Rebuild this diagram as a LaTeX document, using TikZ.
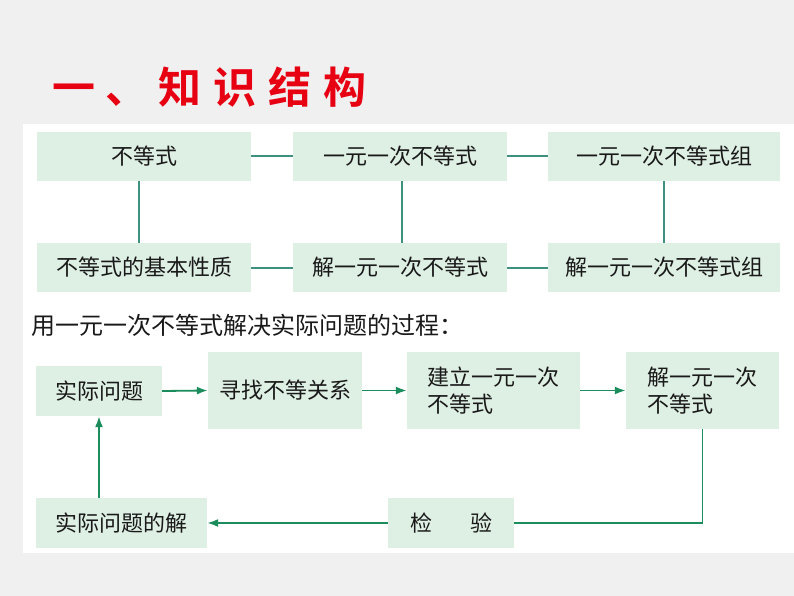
\documentclass[tikz,border=0pt]{standalone}
\usepackage{fontspec}
\usetikzlibrary{arrows.meta,calc}
\newfontfamily\song{Noto Sans CJK SC}
\newfontfamily\kai{Noto Sans CJK SC Bold}
\definecolor{bggray}{HTML}{F0F0F0}
\definecolor{boxfill}{HTML}{DEEFE4}
\definecolor{gridline}{HTML}{3E9080}
\definecolor{arrowgreen}{HTML}{1B8C5C}
\definecolor{titlered}{HTML}{E60012}
\tikzset{
  gbox/.style={fill=boxfill, inner sep=0pt, font=\song\fontsize{22}{27}\selectfont, text=black!90},
  glink/.style={draw=gridline, line width=2pt},
  flowarrow/.style={draw=arrowgreen, line width=1.8pt, -{Latex[length=11pt,width=8pt]}},
  flowline/.style={draw=arrowgreen, line width=1.8pt},
}
\begin{document}
\begin{tikzpicture}[x=1pt,y=-1pt]
\useasboundingbox (0,0) rectangle (794,596);
\fill[bggray] (0,0) rectangle (794,596);
\fill[white] (23,124) rectangle (794,553);

% title
\node[anchor=west, text=titlered, font=\kai\fontsize{43}{43}\selectfont, inner sep=0pt] (title) at (52,87)
  {一\hspace{10pt}、\hspace{10pt}知\hspace{12pt}识\hspace{12pt}结\hspace{12pt}构};

% knowledge grid
\node[gbox, minimum width=214pt, minimum height=49pt] (A) at (144,156.5) {不等式};
\node[gbox, minimum width=214pt, minimum height=49pt] (B) at (400,156.5) {一元一次不等式};
\node[gbox, minimum width=232pt, minimum height=49pt] (C) at (664,156.5) {一元一次不等式组};
\node[gbox, minimum width=214pt, minimum height=49pt] (D) at (144,267.5) {不等式的基本性质};
\node[gbox, minimum width=214pt, minimum height=49pt] (E) at (400,267.5) {解一元一次不等式};
\node[gbox, minimum width=232pt, minimum height=49pt] (F) at (664,267.5) {解一元一次不等式组};

\draw[glink] (A.east) -- (B.west);
\draw[glink] (B.east) -- (C.west);
\draw[glink] (D.east) -- (E.west);
\draw[glink] (E.east) -- (F.west);
\draw[glink] ([xshift=-5pt]A.south) -- ([xshift=-5pt]D.north);
\draw[glink] ([xshift=2pt]B.south) -- ([xshift=2pt]E.north);
\draw[glink] (C.south) -- (F.north);

% heading
\node[anchor=west, inner sep=0pt, font=\song\fontsize{24}{24}\selectfont, text=black!90] (head) at (31,325)
  {用一元一次不等式解决实际问题的过程：};

% flow
\node[gbox, minimum width=126pt, minimum height=50pt] (P1) at (99,391) {实际问题};
\node[gbox, minimum width=154pt, minimum height=77pt] (P2) at (285,390.5) {寻找不等关系};
\node[gbox, minimum width=173pt, minimum height=77pt, align=left] (P3) at (493.5,390.5) {建立一元一次\\不等式};
\node[gbox, minimum width=153pt, minimum height=77pt, align=left] (P4) at (702.5,390.5) {解一元一次\\不等式};
\node[gbox, minimum width=171pt, minimum height=50pt] (P5) at (121.5,523) {实际问题的解};
\node[gbox, minimum width=126pt, minimum height=50pt] (P6) at (451,523) {检\hspace{38pt}验};

\draw[flowarrow] (P1.east) -- (P2.west);
\draw[flowarrow] (P2.east) -- (P3.west);
\draw[flowarrow] (P3.east) -- (P4.west);
\draw[flowline] (P4.south) |- (P6.east);
\draw[flowarrow] (P6.west) -- (P5.east);
\draw[flowarrow] (P1.south |- P5.north) -- (P1.south);
\end{tikzpicture}
\end{document}
